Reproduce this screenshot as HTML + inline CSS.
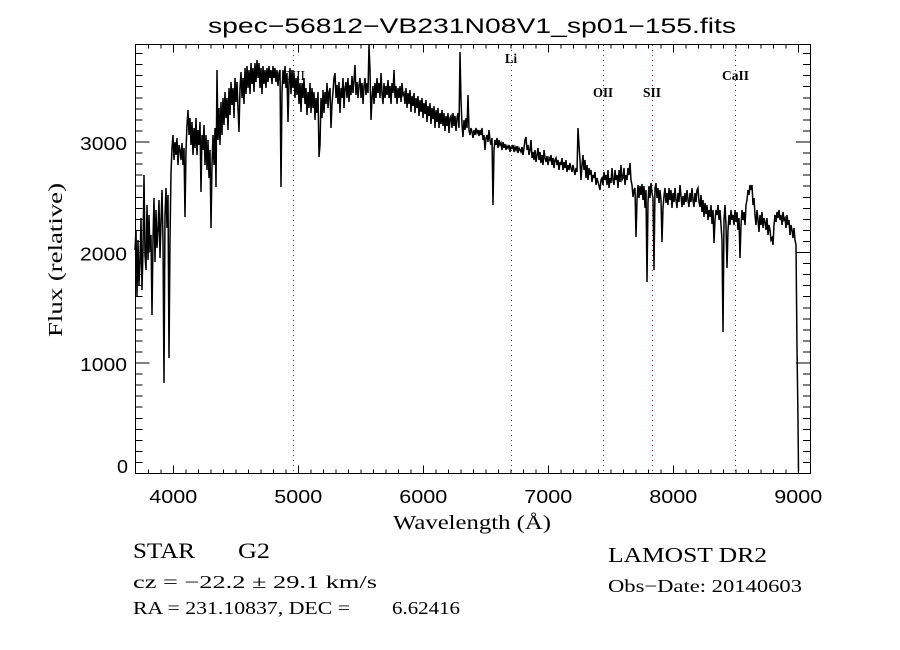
<!DOCTYPE html>
<html>
<head>
<meta charset="utf-8">
<style>
html,body{margin:0;padding:0;background:#fff;}
svg{display:block;}
.serif{font-family:"Liberation Serif","DejaVu Serif",serif;}
.sans{font-family:"Liberation Sans","DejaVu Sans",sans-serif;}
</style>
</head>
<body>
<svg width="900" height="650" viewBox="0 0 900 650" xmlns="http://www.w3.org/2000/svg">
<rect x="0" y="0" width="900" height="650" fill="#fff"/>

<!-- title -->
<text class="sans" x="208" y="33" font-size="21" textLength="528" lengthAdjust="spacingAndGlyphs" fill="#000">spec−56812−VB231N08V1_sp01−155.fits</text>

<!-- dotted line markers -->
<g stroke="#7f1f3f" stroke-width="1" stroke-dasharray="1 4" fill="none" shape-rendering="crispEdges">
<line x1="293.5" y1="45" x2="293.5" y2="473"/>
<line x1="511.5" y1="45" x2="511.5" y2="473"/>
<line x1="603.5" y1="45" x2="603.5" y2="473"/>
<line x1="652.5" y1="45" x2="652.5" y2="473"/>
<line x1="735.5" y1="45" x2="735.5" y2="473"/>
</g>

<!-- spectrum -->
<polyline fill="none" stroke="#000" stroke-width="1.5" stroke-linejoin="miter" points="
135,250 136,230 137,297 138,240 139,285 140,262 141,218 142,290 143,250 144,175 145,255 146,270 147,205 148,260 149,215 150,252 151,235 152,315 153,240 154,198 155,262 156,210 157,248 158,230 159,200 160,258 161,222 162,190 163,240 164,383 165,215 166,188 167,228 168,195 169,358 170,240 171,173 172,148 173,135 174,160 175,142 176,155 177,138 178,165 179,145 180,150 181,160 182,143 183,165 184,148 185,217 186,150
187,125 188,110 189,135 190,118 191,145 192,122 193,155 194,128 195,148 196,118 197,155 198,130 199,145 200,122 201,192 202,135 203,150 204,125 205,165 206,135 207,170 208,140 209,178 210,150 211,228 212,165 213,135 214,165 215,128 216,187 217,70 218,140 219,108 220,145 221,102 222,135 223,98 224,125 225,92 226,118 227,98 228,130 229,88 230,115 231,82 232,105 233,88 234,118 235,78 236,102 237,82 238,108 239,132 240,88 241,72 242,98 243,78 244,104 245,68 246,94 247,66 248,88 249,70 250,94 251,63 252,84 253,68 254,92 255,63 256,82 257,60 258,78 259,63 260,88 261,68 262,94 263,66 264,84 265,70 266,88 267,68 268,82 269,66 270,78 271,70 272,84 273,66 274,78 275,68 276,82 277,70 278,86 279,73 280,70 281,187 282,92 283,70 284,84 285,66 286,88 287,73 288,122 289,82 290,68 291,94 292,70 293,88 294,73 295,98 296,78 297,95 298,76 299,104 300,83 301,112 302,83 303,98 304,78 305,104 306,88 307,115 308,92 309,108 310,83 311,113 312,88 313,108 314,92 315,120 316,98 317,113 318,92 319,157 320,145 321,98 322,118 323,90 324,113 325,92 326,104 327,83 328,108 329,92 330,88 331,128 332,104 333,92 334,78 335,73 336,98 337,85 338,104 339,82 340,113 341,88 342,98 343,78 344,108 345,88 346,82 347,98 348,78 349,102 350,85 351,95 352,76 353,93 354,80 355,65 356,95 357,82 358,98 359,85 360,78 361,98 362,83 363,104 364,86 365,78 366,95 367,83 368,93 369,45 370,70 371,120 372,98 373,86 374,104 375,83 376,98 377,78 378,93 379,83 380,98 381,73 382,93 383,104 384,83 385,98 386,86 387,95 388,80 389,98 390,86 391,104 392,83 393,93 394,70 395,98 396,86 397,104 398,88 399,98 400,86 401,102 402,83 403,95 404,93 405,104 406,88 407,108 408,93 409,104 410,90 411,112 412,96 413,106 414,93 415,113 416,98 417,108 418,96 419,116 420,100 421,112 422,98 423,118 424,103 425,114 426,100 427,122 428,106 429,116 430,103 431,124 432,108 433,119 434,106 435,128 436,110 437,122 438,108 439,128 440,113 441,124 442,110 443,126 444,113 445,131 446,116 447,126 448,113 449,133 450,118 451,116 452,128 453,113 454,126 455,116 456,131 457,118 458,113 459,128 460,52 461,100 462,125 463,137 464,120 465,130 466,118 467,128 468,95 469,130 470,135 471,128 472,132 473,138 474,130 475,135 476,128 477,133 478,130 479,136 480,130 481,135 482,128 483,140 484,135 485,150 486,138 487,135 488,142 489,130 490,140 491,145 492,138 493,205 494,150 495,140 496,145 497,138 498,148 499,140 500,145 501,143 502,150 503,142 504,148 505,144 506,150 507,146 508,148 509,145 510,152 511,147
512,148 513,145 514,152 515,147 516,150 517,146 518,153 519,148 520,150 521,152 522,147 523,155 524,148 525,140 526,137 527,150 528,145 529,155 530,150 531,140 532,158 533,152 534,160 535,150 536,162 537,155 538,148 539,160 540,152 541,163 542,155 543,165 544,150 545,158 546,162 547,156 548,165 549,158 550,160 551,155 552,165 553,158 554,168 555,160 556,158 557,165 558,160 559,170 560,162 561,165 562,158 563,170 564,162 565,168 566,160 567,172 568,165 569,170 570,163 571,168 572,172 573,165 574,170 575,175 576,168 577,172 578,128 579,145 580,160 581,180 582,165 583,155 584,170 585,160 586,178 587,165 588,180 589,168 590,175 591,170 592,182 593,175 594,178 595,172 596,185 597,178 598,182 599,186 600,190 601,180 602,178 603,185 604,172 605,180 606,175 607,185 608,170 609,188 610,178 611,183 612,168 613,180 614,185 615,170 616,180 617,175 618,188 619,170 620,182 621,165 622,180 623,178 624,168 625,185 626,175 627,180 628,168 629,175 630,163 631,180 632,185 633,197 634,190 635,188 636,237 637,200 638,185 639,198 640,186 641,195 642,184 643,200 644,186 645,208 646,190 647,282 648,202 649,186 650,198 651,183 652,193 653,198 654,270 655,188 656,183 657,198 658,188 659,203 660,190 661,200 662,242 663,208 664,196 665,188 666,203 667,193 668,205 669,188 670,200 671,190 672,208 673,193 674,202 675,188 676,200 677,208 678,193 679,202 680,185 681,196 682,207 683,196 684,205 685,193 686,202 687,190 688,200 689,207 690,193 691,202 692,188 693,200 694,207 695,193 696,202 697,190 698,188 699,202 700,207 701,195 702,212 703,200 704,217 705,203 706,214 707,205 708,220 709,210 710,217 711,205 712,224 713,210 714,243 715,220 716,210 717,215 718,205 719,220 720,210 721,225 722,240 723,332 724,220 725,205 726,225 727,268 728,230 729,215 730,225 731,210 732,220 733,215 734,225 735,210 736,222 737,212 738,230 739,218 740,258 741,225 742,210 743,220 744,212 745,225 746,205 747,200 748,190 749,195 750,185 751,190 752,185 753,205 754,198 755,215 756,225 757,210 758,220 759,232 760,215 761,225 762,212 763,228 764,218 765,222 766,230 767,218 768,235 769,225 770,230 771,240 772,238 773,245 774,225 775,215 776,222 777,212 778,218 779,210 780,220 781,215 782,225 783,212 784,220 785,218 786,228 787,215 788,225 789,220 790,235 791,225 792,230 793,238 794,228 795,240 796,245 797,348 798,420 798.5,471 799,471"/>

<!-- frame -->
<rect x="135.5" y="44.5" width="675" height="429" fill="none" stroke="#000" stroke-width="1" shape-rendering="crispEdges"/>

<!-- ticks -->
<g stroke="#000" fill="none" shape-rendering="crispEdges">
<line x1="147.8" y1="471.3" x2="810" y2="471.3" stroke-width="4" stroke-dasharray="1 11.5"/>
<line x1="172.8" y1="469.3" x2="810" y2="469.3" stroke-width="8" stroke-dasharray="1 124"/>
<line x1="147.8" y1="46.5" x2="810" y2="46.5" stroke-width="4" stroke-dasharray="1 11.5"/>
<line x1="172.8" y1="48.5" x2="810" y2="48.5" stroke-width="8" stroke-dasharray="1 124"/>
<line x1="139" y1="474" x2="139" y2="45" stroke-width="7" stroke-dasharray="1 10.05"/>
<line x1="142.5" y1="474" x2="142.5" y2="45" stroke-width="14" stroke-dasharray="1 109.5"/>
<line x1="806.5" y1="474" x2="806.5" y2="45" stroke-width="7" stroke-dasharray="1 10.05"/>
<line x1="803" y1="474" x2="803" y2="45" stroke-width="14" stroke-dasharray="1 109.5"/>
</g>

<!-- tick labels -->
<g class="sans" font-size="18" fill="#000">
<text x="149.3" y="503" textLength="48" lengthAdjust="spacingAndGlyphs">4000</text>
<text x="274.3" y="503" textLength="48" lengthAdjust="spacingAndGlyphs">5000</text>
<text x="399.3" y="503" textLength="48" lengthAdjust="spacingAndGlyphs">6000</text>
<text x="524.3" y="503" textLength="48" lengthAdjust="spacingAndGlyphs">7000</text>
<text x="649.3" y="503" textLength="48" lengthAdjust="spacingAndGlyphs">8000</text>
<text x="774.3" y="503" textLength="48" lengthAdjust="spacingAndGlyphs">9000</text>
<text x="80" y="150" textLength="47" lengthAdjust="spacingAndGlyphs">3000</text>
<text x="80" y="260.5" textLength="47" lengthAdjust="spacingAndGlyphs">2000</text>
<text x="80" y="371" textLength="47" lengthAdjust="spacingAndGlyphs">1000</text>
<text x="117" y="473" textLength="11" lengthAdjust="spacingAndGlyphs">0</text>
</g>

<!-- axis titles -->
<text class="serif" x="393" y="529" font-size="20" textLength="158" lengthAdjust="spacingAndGlyphs" fill="#000">Wavelength (Å)</text>
<text class="serif" transform="translate(62,337) rotate(-90)" font-size="20" textLength="154" lengthAdjust="spacingAndGlyphs" fill="#000">Flux (relative)</text>

<!-- line labels -->
<g class="serif" font-size="14" font-weight="bold" fill="#000">
<text x="505" y="63" textLength="12" lengthAdjust="spacingAndGlyphs">Li</text>
<text x="593" y="97" textLength="20" lengthAdjust="spacingAndGlyphs">OII</text>
<text x="643" y="97" textLength="18" lengthAdjust="spacingAndGlyphs">SII</text>
<text x="722" y="80" textLength="27" lengthAdjust="spacingAndGlyphs">CaII</text>
</g>
<text class="serif" x="282" y="80" font-size="14" textLength="23" lengthAdjust="spacingAndGlyphs" fill="#000">OIII</text>

<!-- bottom info -->
<g class="serif" fill="#000">
<text x="133" y="558" font-size="22" textLength="62" lengthAdjust="spacingAndGlyphs">STAR</text>
<text x="238" y="558" font-size="22" textLength="32" lengthAdjust="spacingAndGlyphs">G2</text>
<text x="133" y="588" font-size="18" textLength="244" lengthAdjust="spacingAndGlyphs">cz = −22.2 ± 29.1 km/s</text>
<text x="133" y="614" font-size="18" textLength="217" lengthAdjust="spacingAndGlyphs">RA = 231.10837, DEC =</text>
<text x="392" y="614" font-size="18" textLength="68" lengthAdjust="spacingAndGlyphs">6.62416</text>
<text x="608" y="562" font-size="21" textLength="159" lengthAdjust="spacingAndGlyphs">LAMOST DR2</text>
<text x="608" y="592" font-size="18" textLength="194" lengthAdjust="spacingAndGlyphs">Obs−Date: 20140603</text>
</g>
</svg>
</body>
</html>
